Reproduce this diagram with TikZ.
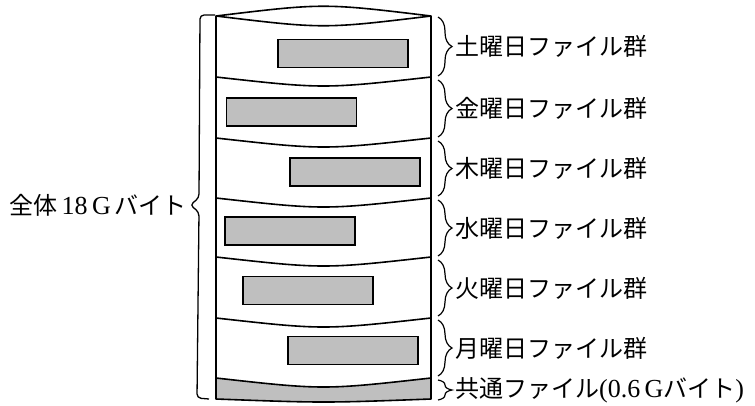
\documentclass[tikz,border=0pt]{standalone}
\usepackage{fontspec}
\setmainfont{Liberation Serif}
\newfontfamily\jp{Noto Sans CJK JP}
\newcommand{\lat}[1]{{\fontsize{26}{28}\selectfont #1}}
\usetikzlibrary{decorations.pathreplacing}
\begin{document}
\begin{tikzpicture}[x=1pt,y=-1pt,
  outline/.style={line width=1.6pt, line join=round},
  divider/.style={line width=1.6pt},
  filebox/.style={draw, line width=1.6pt, fill=black!25, minimum width=130pt, minimum height=28pt, inner sep=0pt},
  rbrace/.style={decorate, decoration={brace, amplitude=14pt}, line width=1.2pt},
  lbrace/.style={line width=1.3pt, rounded corners=4pt},
  lbl/.style={inner sep=0pt, font=\fontsize{24}{28}\selectfont}
]
\useasboundingbox (0,0) rectangle (755,405);
% shaded common area
\fill[black!25] (216,378) .. controls (323.5,390) .. (431,378) -- (431,399) .. controls (323.5,403) .. (216,399) -- cycle;
% outline
\draw[outline] (216,16) .. controls (323.5,3) .. (431,16) -- (431,399) .. controls (323.5,403) .. (216,399) -- cycle;
% dividers
\draw[divider] (216,16) .. controls (323.5,29) .. (431,16);
\foreach \y in {77,138,198,257,318,378}
  \draw[divider] (216,\y) .. controls (323.5,\y+12) .. (431,\y);
% file boxes
\node[filebox] (satbox) at (343,53.5) {};
\node[filebox] (fribox) at (291.5,112) {};
\node[filebox] (thubox) at (355,172) {};
\node[filebox] (wedbox) at (290,231) {};
\node[filebox] (tuebox) at (308,290.5) {};
\node[filebox] (monbox) at (353,350.5) {};
% right braces
\draw[rbrace] (438,17) -- coordinate[xshift=17pt] (satc) (438,76);
\draw[rbrace] (438,80) -- coordinate[xshift=17pt] (fric) (438,137);
\draw[rbrace] (438,141) -- coordinate[xshift=17pt] (thuc) (438,196);
\draw[rbrace] (438,200) -- coordinate[xshift=17pt] (wedc) (438,256);
\draw[rbrace] (438,260) -- coordinate[xshift=17pt] (tuec) (438,316);
\draw[rbrace] (438,320) -- coordinate[xshift=17pt] (monc) (438,376);
\draw[rbrace] (438,380) -- coordinate[xshift=17pt] (comc) (438,400);
\node[lbl, anchor=west] (satlbl) at (satc) {\jp 土曜日ファイル群};
\node[lbl, anchor=west] (frilbl) at (fric) {\jp 金曜日ファイル群};
\node[lbl, anchor=west] (thulbl) at (thuc) {\jp 木曜日ファイル群};
\node[lbl, anchor=west] (wedlbl) at (wedc) {\jp 水曜日ファイル群};
\node[lbl, anchor=west] (tuelbl) at (tuec) {\jp 火曜日ファイル群};
\node[lbl, anchor=west] (monlbl) at (monc) {\jp 月曜日ファイル群};
\node[lbl, anchor=west] (comlbl) at (comc) {{\jp 共通ファイル}\lat{(0.6\,G}{\jp バイト}\lat{)}};
% left brace
\coordinate (alltip) at (190,205);
\draw[lbrace] (215,15) -- (200,15) -- (199,198) -- (alltip) -- (199,212) -- (197,398) -- (209,399);
\node[lbl, anchor=east] (alllbl) at ([xshift=-3pt]alltip) {{\jp 全体}\,\lat{18\,G}\,{\jp バイト}};
\end{tikzpicture}
\end{document}
